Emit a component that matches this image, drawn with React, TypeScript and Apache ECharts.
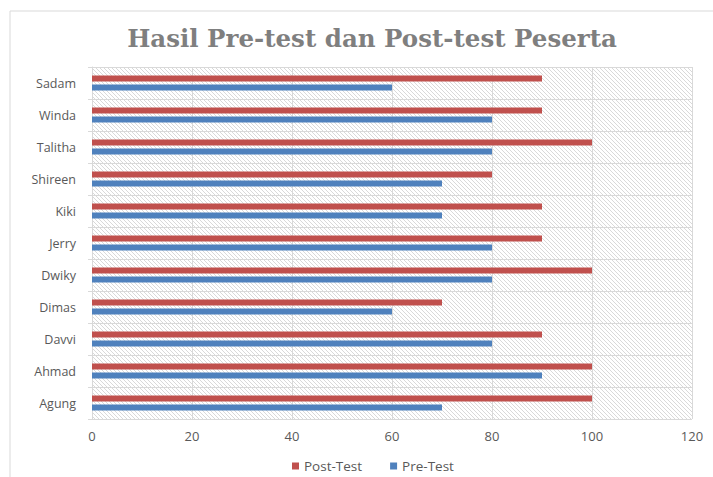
import React, { useEffect, useRef } from "react";
import * as echarts from "echarts";

const categories = ["Agung", "Ahmad", "Davvi", "Dimas", "Dwiky", "Jerry", "Kiki", "Shireen", "Talitha", "Winda", "Sadam"];
const postTest = [100, 100, 90, 70, 100, 90, 90, 80, 100, 90, 90];
const preTest = [70, 90, 80, 60, 80, 80, 70, 70, 80, 80, 60];
const xTicks = { min: 0, max: 120, interval: 20 };

function makeHatch(): string {
  const c = document.createElement("canvas");
  c.width = 4;
  c.height = 4;
  const ctx = c.getContext("2d")!;
  ctx.fillStyle = "#ffffff";
  ctx.fillRect(0, 0, 4, 4);
  ctx.fillStyle = "#d9d9d9";
  for (let i = 0; i < 4; i++) ctx.fillRect(i, i, 1, 1);
  return c.toDataURL();
}

export default function App() {
  const ref = useRef<HTMLDivElement>(null);
  useEffect(() => {
    const chart = echarts.init(ref.current!, undefined, { renderer: "svg" });
    const hatch = makeHatch();
    const sans = "'Open Sans', 'Noto Sans', sans-serif";
    chart.setOption({
      animation: false,
      backgroundColor: "#ffffff",
      title: {
        text: "Hasil Pre-test dan Post-test Peserta",
        left: 367,
        top: 21,
        textAlign: "center",
        textStyle: {
          fontFamily: "'DejaVu Serif', 'Liberation Serif', serif",
          fontWeight: "bold",
          fontSize: 24.5,
          color: "#7f7f7f",
        },
      },
      graphic: [
        {
          type: "rect",
          shape: { x: 10, y: 11, width: 730, height: 480 },
          style: { fill: "none", stroke: "#d9d9d9", lineWidth: 1 },
          silent: true,
          z: -1,
        },
      ],
      legend: {
        data: ["Post-Test", "Pre-Test"],
        left: 287,
        top: 454,
        icon: "rect",
        itemWidth: 7,
        itemHeight: 7,
        itemGap: 28,
        textStyle: { fontFamily: sans, fontSize: 13.5, color: "#595959" },
      },
      grid: {
        left: 92,
        right: 21,
        top: 67,
        bottom: 58,
        show: true,
        borderWidth: 0,
        backgroundColor: { image: hatch, repeat: "repeat", imageWidth: 4, imageHeight: 4 },
      },
      xAxis: {
        type: "value",
        min: xTicks.min,
        max: xTicks.max,
        interval: xTicks.interval,
        axisLine: { show: false },
        axisTick: { show: false },
        splitLine: { show: true, lineStyle: { color: "#d9d9d9", width: 1 } },
        axisLabel: { fontFamily: sans, fontSize: 13, color: "#595959", margin: 10 },
      },
      yAxis: {
        type: "category",
        data: categories,
        axisLine: { show: true, lineStyle: { color: "#d9d9d9" } },
        axisTick: { show: true, length: 4, lineStyle: { color: "#d9d9d9" } },
        splitLine: { show: true, lineStyle: { color: "#d9d9d9", width: 1 } },
        axisLabel: { fontFamily: sans, fontSize: 12.5, color: "#595959", margin: 16 },
      },
      series: [
        {
          name: "Post-Test",
          type: "bar",
          data: postTest,
          barWidth: 6,
          barGap: "50%",
          itemStyle: { color: "#c0504d" },
        },
        {
          name: "Pre-Test",
          type: "bar",
          data: preTest,
          barWidth: 6,
          barGap: "50%",
          itemStyle: { color: "#4f81bd" },
        },
      ],
    });
    return () => chart.dispose();
  }, []);
  return <div ref={ref} style={{ position: "fixed", left: 0, top: 0, width: 713, height: 477 }} />;
}
